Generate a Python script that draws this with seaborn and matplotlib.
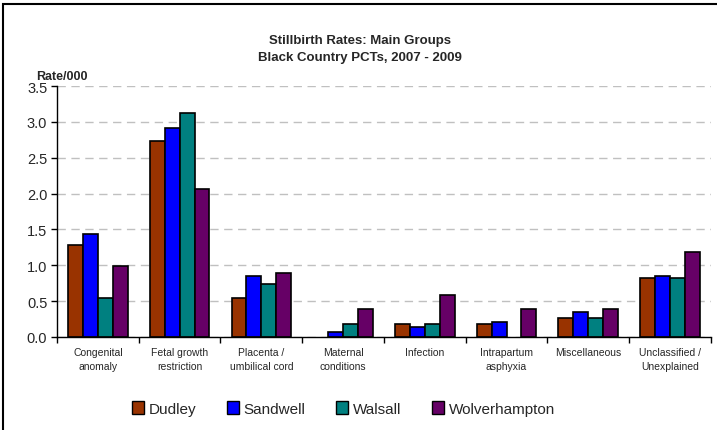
import numpy as np
import pandas as pd
import matplotlib
matplotlib.use("Agg")
import matplotlib.pyplot as plt
import seaborn as sns
from matplotlib.patches import Rectangle

# Values (rate per 1000)
categories = ["Congenital\nanomaly", "Fetal growth\nrestriction", "Placenta /\numbilical cord",
              "Maternal\nconditions", "Infection", "Intrapartum\nasphyxia",
              "Miscellaneous", "Unclassified /\nUnexplained"]
dudley = [1.28, 2.73, 0.54, 0.0, 0.18, 0.18, 0.27, 0.82]
sandwell = [1.43, 2.92, 0.855, 0.07, 0.14, 0.21, 0.35, 0.855]
walsall = [0.54, 3.12, 0.735, 0.18, 0.18, 0.0, 0.27, 0.82]
wolverhampton = [0.99, 2.07, 0.89, 0.39, 0.59, 0.39, 0.39, 1.18]
pcts = ["Dudley", "Sandwell", "Walsall", "Wolverhampton"]
colors = ["#993300", "#0000FF", "#008080", "#660066"]

df = pd.DataFrame({"Dudley": dudley, "Sandwell": sandwell,
                   "Walsall": walsall, "Wolverhampton": wolverhampton},
                  index=categories)
long = df.reset_index(names="group").melt(id_vars="group", var_name="pct", value_name="rate")

sns.set_style("white")
plt.rcParams["font.family"] = ["Liberation Sans", "DejaVu Sans"]

fig = plt.figure(figsize=(7.17, 4.31), dpi=100)
ax = fig.add_axes([0.0795, 0.2158, 0.912, 0.5822])

sns.barplot(data=long, x="group", y="rate", hue="pct", hue_order=pcts,
            palette=colors, width=0.73, gap=0, edgecolor="black", linewidth=1.2,
            saturation=1, ax=ax, legend=False)

# no outline for empty (zero) bars
for bar in ax.patches:
    if bar.get_height() == 0:
        bar.set_linewidth(0)

ax.set_ylim(0, 3.5)
ax.set_xlim(-0.5, len(categories) - 0.5)
ax.set_yticks(np.arange(0, 3.51, 0.5))
ax.set_yticklabels([f"{v:.1f}" for v in np.arange(0, 3.51, 0.5)], fontsize=10.5)
ax.yaxis.grid(True, color="#c0c0c0", linestyle=(0, (6, 4)), linewidth=1)
ax.set_axisbelow(True)
ax.set_xlabel("")
ax.set_ylabel("")

# category labels centred, tick marks on the boundaries
ax.set_xticks(range(len(categories)))
ax.set_xticklabels(categories, fontsize=7.5, linespacing=1.55)
ax.set_xticks(np.arange(-0.5, len(categories), 1.0), minor=True)
ax.tick_params(axis="x", which="major", length=0, pad=7)
ax.tick_params(axis="x", which="minor", length=4, width=1, color="black", direction="out", bottom=True)
ax.tick_params(axis="y", length=4, width=1, color="black", direction="out", left=True, pad=3)

for side in ["top", "right"]:
    ax.spines[side].set_visible(False)
ax.spines["left"].set_color("black")
ax.spines["bottom"].set_color("black")
ax.spines["left"].set_linewidth(1)
ax.spines["bottom"].set_linewidth(1)

fig.text(0.502, 0.905, "Stillbirth Rates: Main Groups", ha="center", va="center",
         fontsize=9.5, fontweight="bold")
fig.text(0.502, 0.866, "Black Country PCTs, 2007 - 2009", ha="center", va="center",
         fontsize=9.5, fontweight="bold")
fig.text(0.05, 0.822, "Rate/000", ha="left", va="center", fontsize=9, fontweight="bold")

handles = [Rectangle((0, 0), 1, 1, facecolor=c, edgecolor="black", linewidth=1) for c in colors]
fig.legend(handles, pcts, loc="center", bbox_to_anchor=(0.479, 0.05), ncol=4, frameon=False,
           fontsize=11, handlelength=0.8, handleheight=0.9, handletextpad=0.3, columnspacing=2.0)

# outer chart frame
fig.patches.append(Rectangle((0.004, -0.02), 1.02, 1.0 - 0.011 + 0.02, transform=fig.transFigure,
                             fill=False, edgecolor="black", linewidth=1.5))

fig.savefig("out.png", dpi=100, facecolor="white")
